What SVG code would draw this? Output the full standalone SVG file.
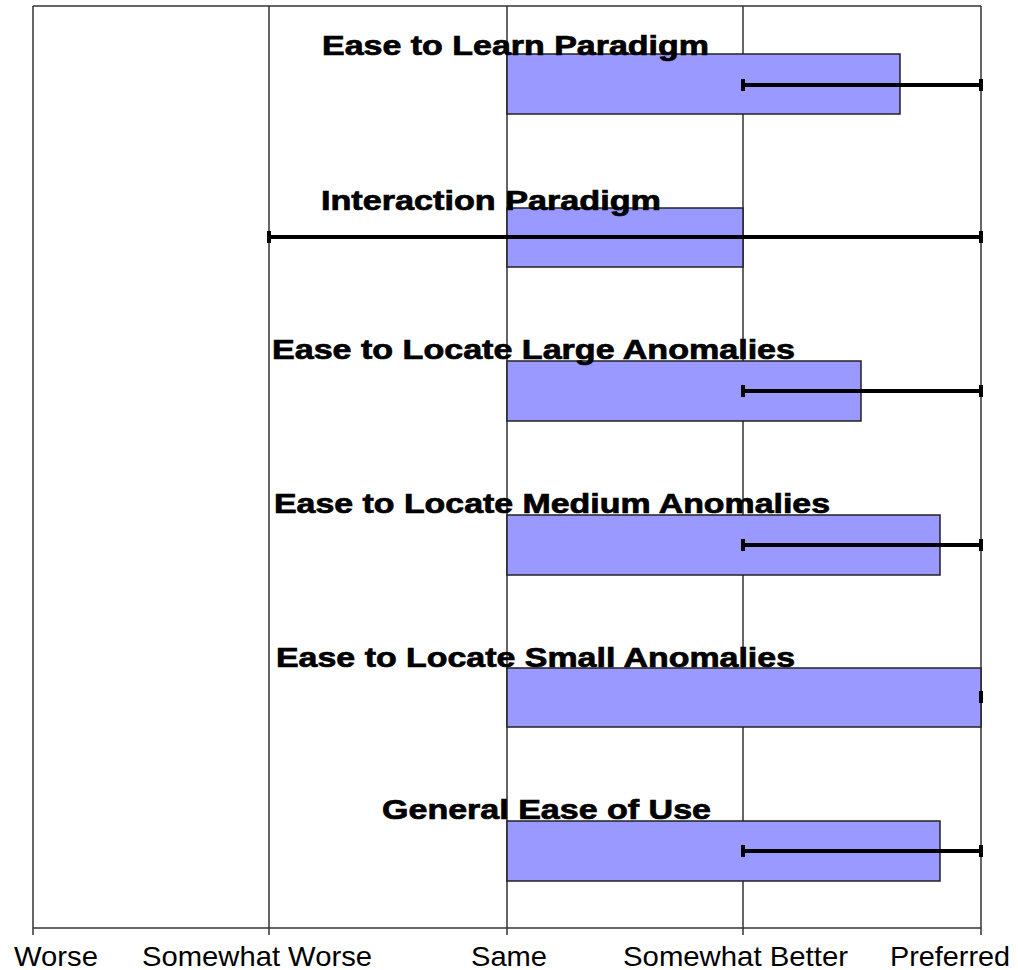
<svg xmlns="http://www.w3.org/2000/svg" width="1018" height="970" viewBox="0 0 1018 970">
<style>
.grid{stroke:#333;stroke-width:1.5;fill:none}
.bar{fill:#9999FF;stroke:#222;stroke-width:1.5}
.err{stroke:#000;stroke-width:4;fill:none}
.cap{stroke:#000;stroke-width:4;fill:none}
.lbl{font-family:"Liberation Sans",Arial,sans-serif;font-weight:bold;font-size:27px;fill:#000;stroke:#000;stroke-width:0.7}
.ax{font-family:"Liberation Sans",Arial,sans-serif;font-size:28px;fill:#000}
</style>
<rect width="1018" height="970" fill="#fff"/>
<g id="grid">
<line class="grid" x1="33" y1="6" x2="981" y2="6"/>
<line class="grid" x1="33" y1="6" x2="33" y2="935"/>
<line class="grid" x1="269" y1="6" x2="269" y2="935"/>
<line class="grid" x1="507" y1="6" x2="507" y2="935"/>
<line class="grid" x1="743" y1="6" x2="743" y2="935"/>
<line class="grid" x1="981" y1="6" x2="981" y2="935"/>
<line class="grid" x1="33" y1="928" x2="981" y2="928"/>
</g>
<g id="bar1"><rect class="bar" x="507" y="54" width="393" height="60"/></g>
<g id="bar2"><rect class="bar" x="507" y="208" width="236" height="59"/></g>
<g id="bar3"><rect class="bar" x="507" y="361" width="354" height="60"/></g>
<g id="bar4"><rect class="bar" x="507" y="515" width="433" height="60"/></g>
<g id="bar5"><rect class="bar" x="507" y="668" width="474" height="59"/></g>
<g id="bar6"><rect class="bar" x="507" y="821" width="433" height="60"/></g>
<g id="errorbars">
<line class="err" x1="743" y1="85" x2="981" y2="85"/>
<line class="cap" x1="743" y1="79" x2="743" y2="91"/><line class="cap" x1="981" y1="79" x2="981" y2="91"/>
<line class="err" x1="269" y1="237" x2="981" y2="237"/>
<line class="cap" x1="269" y1="231" x2="269" y2="243"/><line class="cap" x1="981" y1="231" x2="981" y2="243"/>
<line class="err" x1="743" y1="391" x2="981" y2="391"/>
<line class="cap" x1="743" y1="385" x2="743" y2="397"/><line class="cap" x1="981" y1="385" x2="981" y2="397"/>
<line class="err" x1="743" y1="545" x2="981" y2="545"/>
<line class="cap" x1="743" y1="539" x2="743" y2="551"/><line class="cap" x1="981" y1="539" x2="981" y2="551"/>
<line class="cap" x1="981" y1="691" x2="981" y2="703"/>
<line class="err" x1="743" y1="851" x2="981" y2="851"/>
<line class="cap" x1="743" y1="845" x2="743" y2="857"/><line class="cap" x1="981" y1="845" x2="981" y2="857"/>
</g>
<g id="labels">
<text class="lbl" x="322" y="55" textLength="387" lengthAdjust="spacingAndGlyphs">Ease to Learn Paradigm</text>
<text class="lbl" x="321" y="210" textLength="340" lengthAdjust="spacingAndGlyphs">Interaction Paradigm</text>
<text class="lbl" x="272" y="359" textLength="523" lengthAdjust="spacingAndGlyphs">Ease to Locate Large Anomalies</text>
<text class="lbl" x="274" y="513" textLength="556" lengthAdjust="spacingAndGlyphs">Ease to Locate Medium Anomalies</text>
<text class="lbl" x="276" y="667" textLength="519" lengthAdjust="spacingAndGlyphs">Ease to Locate Small Anomalies</text>
<text class="lbl" x="382" y="819" textLength="329" lengthAdjust="spacingAndGlyphs">General Ease of Use</text>
</g>
<g id="axis">
<text class="ax" x="14" y="966" textLength="84" lengthAdjust="spacingAndGlyphs">Worse</text>
<text class="ax" x="142" y="966" textLength="230" lengthAdjust="spacingAndGlyphs">Somewhat Worse</text>
<text class="ax" x="471" y="966" textLength="76" lengthAdjust="spacingAndGlyphs">Same</text>
<text class="ax" x="623" y="966" textLength="225" lengthAdjust="spacingAndGlyphs">Somewhat Better</text>
<text class="ax" x="890" y="966" textLength="120" lengthAdjust="spacingAndGlyphs">Preferred</text>
</g>
</svg>
